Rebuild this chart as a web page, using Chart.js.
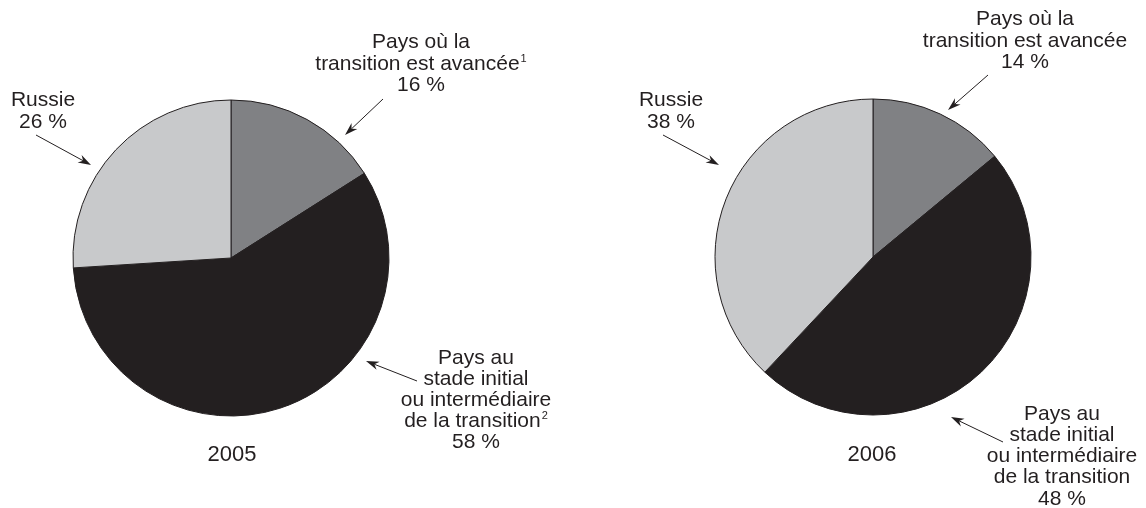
<!DOCTYPE html>
<html>
<head>
<meta charset="utf-8">
<script src="https://cdn.jsdelivr.net/npm/chart.js@4/dist/chart.umd.min.js"></script>
<style>
  html, body { margin: 0; padding: 0; background: #ffffff; }
  #wrap { position: relative; width: 1146px; height: 508px; overflow: hidden; }
  .layer { position: absolute; left: 0; top: 0; width: 1146px; height: 508px; }
</style>
</head>
<body>
<div id="wrap">
  <div class="layer"><canvas id="c2005"></canvas></div>
  <div class="layer"><canvas id="c2006"></canvas></div>
</div>
<script>
// ---------- DATA ----------
const categories = [
  "Pays où la transition est avancée",
  "Pays au stade initial ou intermédiaire de la transition",
  "Russie"
];
const years = ["2005", "2006"];
const values2005 = [16, 58, 26];
const values2006 = [14, 48, 38];

// ---------- STYLE / LAYOUT ----------
const sliceColors = ["#808184", "#231f20", "#c8c9cb"];
const inkColor = "#231f20";
const W = 1146, H = 508;
const RADIUS = 158;
const FONT = '"Liberation Sans", Arial, Helvetica, sans-serif';

// label blocks: lines of [text, superscript]; value line appended from data
const layouts = {
  "2005": {
    center: [231, 258],
    year: { x: 232, y: 461 },
    labels: [
      { lines: [["Pays où la", ""], ["transition est avancée", "1"]], x: 421, y: 48, lh: 21.5,
        arrow: [[383, 99], [345, 135]] },
      { lines: [["Pays au", ""], ["stade initial", ""], ["ou intermédiaire", ""], ["de la transition", "2"]], x: 476, y: 363.5, lh: 21.2,
        arrow: [[417, 381], [366, 361]] },
      { lines: [["Russie", ""]], x: 43, y: 106, lh: 22,
        arrow: [[36, 135], [91, 165]] }
    ]
  },
  "2006": {
    center: [873, 257],
    year: { x: 872, y: 461 },
    labels: [
      { lines: [["Pays où la", ""], ["transition est avancée", ""]], x: 1025, y: 25, lh: 21.5,
        arrow: [[988, 75], [948, 110]] },
      { lines: [["Pays au", ""], ["stade initial", ""], ["ou intermédiaire", ""], ["de la transition", ""]], x: 1062, y: 419.5, lh: 21.3,
        arrow: [[1003, 442], [951, 417]] },
      { lines: [["Russie", ""]], x: 671, y: 106, lh: 22,
        arrow: [[663, 135], [719, 165]] }
    ]
  }
};

function drawArrow(ctx, from, to) {
  const [x1, y1] = from, [x2, y2] = to;
  const ang = Math.atan2(y2 - y1, x2 - x1);
  const len = 13, half = 4.2, notch = 9;
  ctx.save();
  ctx.strokeStyle = inkColor;
  ctx.fillStyle = inkColor;
  ctx.lineWidth = 1;
  ctx.beginPath();
  ctx.moveTo(x1, y1);
  ctx.lineTo(x2 - Math.cos(ang) * notch, y2 - Math.sin(ang) * notch);
  ctx.stroke();
  ctx.translate(x2, y2);
  ctx.rotate(ang);
  ctx.beginPath();
  ctx.moveTo(0, 0);
  ctx.lineTo(-len, -half);
  ctx.lineTo(-notch, 0);
  ctx.lineTo(-len, half);
  ctx.closePath();
  ctx.fill();
  ctx.restore();
}

function drawLine(ctx, text, sup, cx, y) {
  ctx.font = "21px " + FONT;
  const w1 = ctx.measureText(text).width;
  ctx.font = "11px " + FONT;
  const w2 = sup ? ctx.measureText(sup).width + 1 : 0;
  const x0 = cx - (w1 + w2) / 2;
  ctx.textAlign = "left";
  ctx.textBaseline = "alphabetic";
  ctx.fillStyle = inkColor;
  ctx.font = "21px " + FONT;
  ctx.fillText(text, x0, y);
  if (sup) {
    ctx.font = "11px " + FONT;
    ctx.fillText(sup, x0 + w1 + 1, y - 8);
  }
}

const annotationPlugin = {
  id: "annotations",
  afterDraw(chart) {
    const key = chart.options.plugins.annotations.year;
    const lay = layouts[key];
    const ctx = chart.ctx;
    const values = chart.data.datasets[0].data;
    ctx.save();
    lay.labels.forEach((lab, i) => {
      const lines = lab.lines.concat([[values[i] + " %", ""]]);
      lines.forEach((ln, j) => drawLine(ctx, ln[0], ln[1], lab.x, lab.y + j * lab.lh));
      drawArrow(ctx, lab.arrow[0], lab.arrow[1]);
    });
    ctx.font = "22px " + FONT;
    ctx.textAlign = "center";
    ctx.textBaseline = "alphabetic";
    ctx.fillStyle = inkColor;
    ctx.fillText(key, lay.year.x, lay.year.y);
    ctx.restore();
  }
};

function makePie(canvasId, year, values) {
  const [cx, cy] = layouts[year].center;
  const half = 175;
  return new Chart(document.getElementById(canvasId), {
    type: "pie",
    data: {
      labels: categories,
      datasets: [{
        data: values,
        backgroundColor: sliceColors,
        borderColor: inkColor,
        borderWidth: 1,
        hoverOffset: 0
      }]
    },
    options: {
      responsive: false,
      maintainAspectRatio: false,
      animation: false,
      events: [],
      radius: RADIUS,
      layout: {
        padding: {
          left: cx - half,
          right: W - (cx + half),
          top: cy - half,
          bottom: H - (cy + half)
        }
      },
      plugins: {
        legend: { display: false },
        tooltip: { enabled: false },
        annotations: { year: year }
      }
    },
    plugins: [annotationPlugin]
  });
}

document.getElementById("c2005").width = W;
document.getElementById("c2005").height = H;
document.getElementById("c2006").width = W;
document.getElementById("c2006").height = H;
makePie("c2005", years[0], values2005);
makePie("c2006", years[1], values2006);
</script>
</body>
</html>
